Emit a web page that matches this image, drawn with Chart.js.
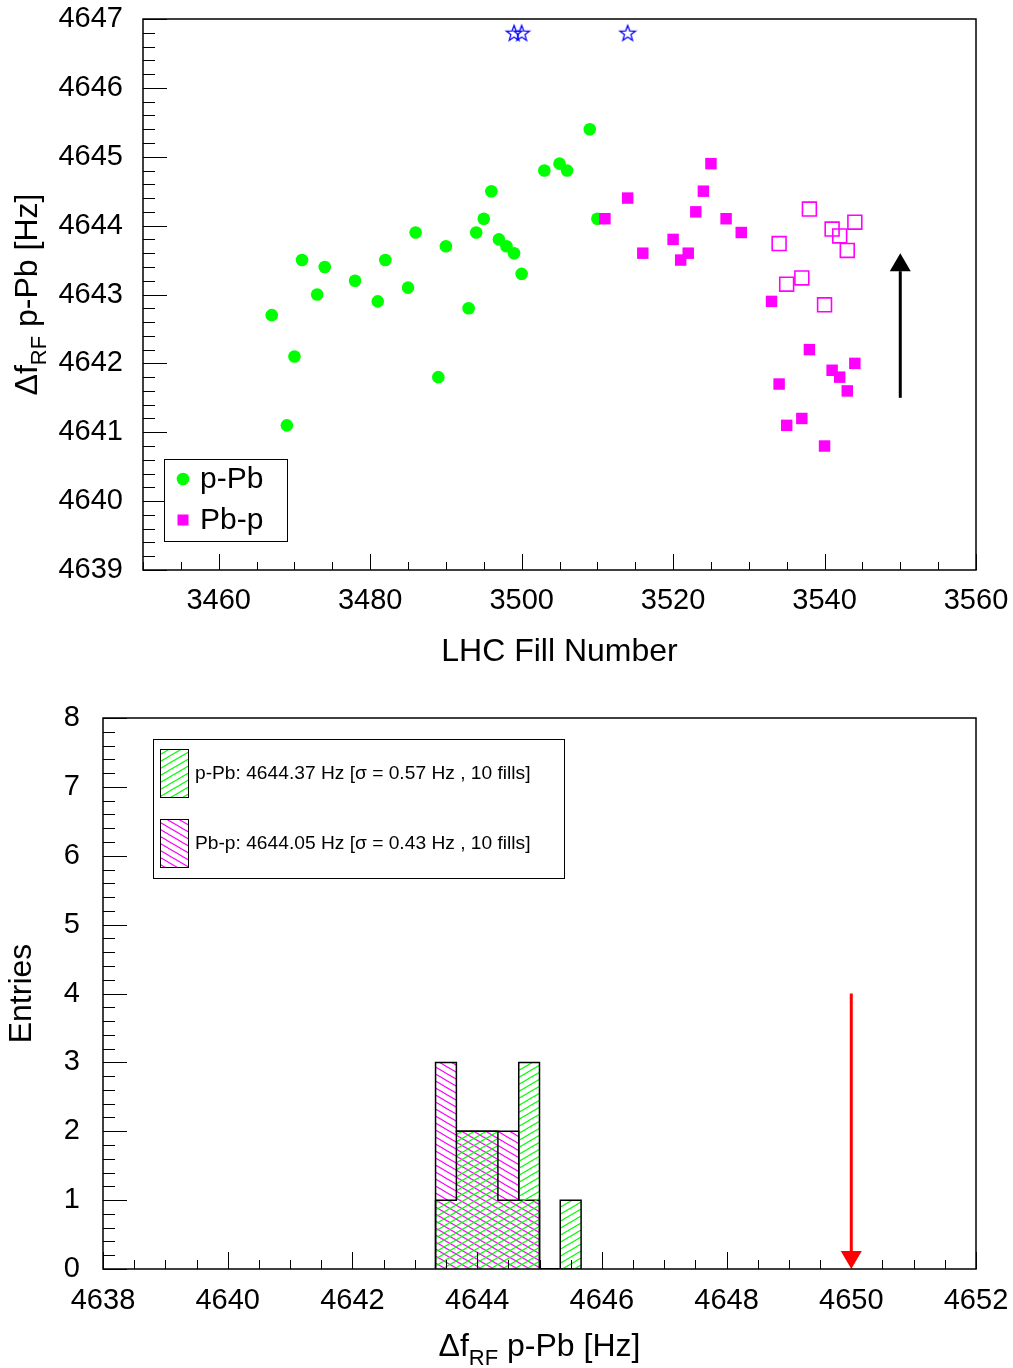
<!DOCTYPE html>
<html>
<head>
<meta charset="utf-8">
<script src="https://cdn.jsdelivr.net/npm/chart.js@4.4.0/dist/chart.umd.min.js"></script>
<style>
  html, body { margin: 0; padding: 0; background: #fff; }
  #wrap { position: relative; width: 1013px; height: 1368px; }
  canvas { position: absolute; left: 0; }
  #fillChart { top: 0; }
  #histChart { top: 680px; }
</style>
</head>
<body>
<div id="wrap">
  <canvas id="fillChart" width="1013" height="680"></canvas>
  <canvas id="histChart" width="1013" height="688"></canvas>
</div>
<script>
const FONT = '"Liberation Sans", Arial, Helvetica, sans-serif';

// p-Pb fills (green dots)
const ppbFill = [3467, 3469, 3470, 3471, 3473, 3474, 3478, 3481, 3482, 3485, 3486, 3489, 3490,
                 3493, 3494, 3495, 3496, 3497, 3498, 3499, 3500, 3503, 3505, 3506, 3509, 3510];
const ppbFreq = [4642.7, 4641.1, 4642.1, 4643.5, 4643.0, 4643.4, 4643.2, 4642.9, 4643.5, 4643.1, 4643.9, 4641.8, 4643.7,
                 4642.8, 4643.9, 4644.1, 4644.5, 4643.8, 4643.7, 4643.6, 4643.3, 4644.8, 4644.9, 4644.8, 4645.4, 4644.1];

// Pb-p fills (filled magenta squares)
const pbpFill = [3511, 3514, 3516, 3520, 3521, 3522, 3523, 3524, 3525, 3527, 3529,
                 3533, 3534, 3535, 3537, 3538, 3540, 3541, 3542, 3543, 3544];
const pbpFreq = [4644.1, 4644.4, 4643.6, 4643.8, 4643.5, 4643.6, 4644.2, 4644.5, 4644.9, 4644.1, 4643.9,
                 4642.9, 4641.7, 4641.1, 4641.2, 4642.2, 4640.8, 4641.9, 4641.8, 4641.6, 4642.0];

// Pb-p fills, shifted values (open magenta squares)
const pbpShiftFill = [3534, 3535, 3537, 3538, 3540, 3541, 3542, 3543, 3544];
const pbpShiftFreq = [4643.74, 4643.15, 4643.24, 4644.24, 4642.85, 4643.95, 4643.85, 4643.64, 4644.05];

// fills off scale (blue stars along the top)
const starFill = [3499, 3500, 3514];
const starFreq = [4646.8, 4646.8, 4646.8];

// arrow in the upper panel: [fill, from, to]
const fillArrow = [3550, 4641.5, 4643.6];

const fillTicksX = [3460, 3480, 3500, 3520, 3540, 3560];
const fillTicksY = [4639, 4640, 4641, 4642, 4643, 4644, 4645, 4646, 4647];

// histogram of frequencies, bins of 1/3 Hz
const binEdges = [4643.333, 4643.667, 4644.0, 4644.333, 4644.667, 4645.0, 4645.333, 4645.667];
const ppbCounts = [1, 2, 2, 1, 3, 0, 1];
const pbpCounts = [3, 2, 2, 2, 1, 0, 0];

// nominal value marker: [frequency, from entries, to entries]
const nominalArrow = [4650, 4, 0];

const histTicksX = [4638, 4640, 4642, 4644, 4646, 4648, 4650, 4652];
const histTicksY = [0, 1, 2, 3, 4, 5, 6, 7, 8];

const legendPpb = 'p-Pb: 4644.37 Hz [\u03c3 = 0.57 Hz , 10 fills]';
const legendPbp = 'Pb-p: 4644.05 Hz [\u03c3 = 0.43 Hz , 10 fills]';

const GREEN = '#00ff00';
const MAGENTA = '#ff00ff';

function toPoints(xs, ys) {
    return xs.map((x, i) => ({ x: x, y: ys[i] }));
}

// histogram outline: the value of each bin holds until the next edge
function stepPoints(edges, counts) {
    const pts = [{ x: edges[0], y: 0 }];
    counts.forEach((c, i) => pts.push({ x: edges[i], y: c }));
    pts.push({ x: edges[edges.length - 1], y: 0 });
    return pts;
}

function makeStar(color) {
    const c = document.createElement('canvas');
    c.width = 20; c.height = 20;
    const g = c.getContext('2d');
    g.strokeStyle = color;
    g.lineWidth = 1.3;
    g.beginPath();
    for (let i = 0; i < 10; i++) {
        const r = i % 2 ? 3.4 : 8.2;
        const a = -Math.PI / 2 + i * Math.PI / 5;
        const px = 10 + r * Math.cos(a), py = 10.8 + r * Math.sin(a);
        if (i) g.lineTo(px, py); else g.moveTo(px, py);
    }
    g.closePath();
    g.stroke();
    return c;
}

// diagonal hatch tile; dir > 0 rises to the right, dir < 0 falls
function makeHatch(ctx, color, dir) {
    const w = 12, h = 7;
    const c = document.createElement('canvas');
    c.width = w; c.height = h;
    const g = c.getContext('2d');
    g.strokeStyle = color;
    g.lineWidth = 1.1;
    g.beginPath();
    for (let dx = -w; dx <= w; dx += w) {
        for (let dy = -h; dy <= h; dy += h) {
            if (dir > 0) { g.moveTo(dx, dy + h); g.lineTo(dx + w, dy); }
            else { g.moveTo(dx, dy); g.lineTo(dx + w, dy + h); }
        }
    }
    g.stroke();
    return ctx.createPattern(c, 'repeat');
}

// inward ROOT-like tick marks plus the frame
function frameTicksPlugin(cfg) {
    function drawTicks(ctx, scale, o, axis, a) {
        const n0 = Math.ceil(scale.min / o.minor - 1e-6);
        const n1 = Math.floor(scale.max / o.minor + 1e-6);
        ctx.beginPath();
        for (let n = n0; n <= n1; n++) {
            const v = n * o.minor;
            const k = v / o.major;
            const major = Math.abs(k - Math.round(k)) < 1e-6;
            const len = major ? o.majorLen : o.minorLen;
            const p = Math.round(scale.getPixelForValue(v)) + 0.5;
            if (axis === 'x') { ctx.moveTo(p, a.bottom); ctx.lineTo(p, a.bottom - len); }
            else { ctx.moveTo(a.left, p); ctx.lineTo(a.left + len, p); }
        }
        ctx.stroke();
    }
    return {
        id: 'frameTicks',
        afterDraw(chart) {
            const { ctx, chartArea: a, scales } = chart;
            ctx.save();
            ctx.strokeStyle = '#000';
            ctx.lineWidth = 1;
            drawTicks(ctx, scales.x, cfg.x, 'x', a);
            drawTicks(ctx, scales.y, cfg.y, 'y', a);
            ctx.lineWidth = 1.5;
            ctx.strokeRect(a.left, a.top, a.right - a.left, a.bottom - a.top);
            ctx.restore();
        }
    };
}

// text pieces with subscripts: [text, size, baseline shift]
function drawRich(ctx, parts, x, y, rotate) {
    ctx.save();
    ctx.translate(x, y);
    if (rotate) ctx.rotate(-Math.PI / 2);
    let total = 0;
    parts.forEach(p => { ctx.font = p[1] + 'px ' + FONT; total += ctx.measureText(p[0]).width; });
    let cx = -total / 2;
    ctx.textAlign = 'left';
    ctx.textBaseline = 'alphabetic';
    ctx.fillStyle = '#000';
    parts.forEach(p => {
        ctx.font = p[1] + 'px ' + FONT;
        ctx.fillText(p[0], cx, p[2]);
        cx += ctx.measureText(p[0]).width;
    });
    ctx.restore();
}

const dfTitle = [['\u0394f', 32, 0], ['RF', 22, 9], [' p-Pb [Hz]', 32, 0]];

function drawArrow(ctx, x, yFrom, yTo, color) {
    const dir = yTo < yFrom ? -1 : 1;
    const head = 18, half = 10.5;
    ctx.save();
    ctx.strokeStyle = color;
    ctx.fillStyle = color;
    ctx.lineWidth = 3;
    ctx.beginPath();
    ctx.moveTo(x, yFrom);
    ctx.lineTo(x, yTo - dir * head);
    ctx.stroke();
    ctx.beginPath();
    ctx.moveTo(x, yTo);
    ctx.lineTo(x - half, yTo - dir * head);
    ctx.lineTo(x + half, yTo - dir * head);
    ctx.closePath();
    ctx.fill();
    ctx.restore();
}

// fixed axis box; label overhang is covered by the layout padding
function fixBox(prop, size) {
    return s => {
        s[prop] = size;
        s.paddingLeft = 0;
        s.paddingRight = 0;
        s.paddingTop = 0;
        s.paddingBottom = 0;
    };
}

function axisOptions(min, max, tickValues, pad, fit) {
    return {
        type: 'linear',
        min: min,
        max: max,
        grid: { display: false, drawTicks: false },
        border: { display: false },
        ticks: {
            color: '#000',
            font: { family: FONT, size: 29 },
            padding: pad,
            autoSkip: false,
            maxRotation: 0,
            callback: v => String(v)
        },
        afterBuildTicks: s => { s.ticks = tickValues.map(v => ({ value: v })); },
        afterFit: fit
    };
}

// ---------- upper panel: frequency vs fill ----------
const starImg = makeStar('#0000ff');

const fillDecor = {
    id: 'fillDecor',
    afterDraw(chart) {
        const { ctx, scales } = chart;
        const x = scales.x.getPixelForValue(fillArrow[0]);
        drawArrow(ctx, x, scales.y.getPixelForValue(fillArrow[1]), scales.y.getPixelForValue(fillArrow[2]), '#000');

        // titles
        ctx.save();
        ctx.fillStyle = '#000';
        ctx.font = '32px ' + FONT;
        ctx.textAlign = 'center';
        ctx.textBaseline = 'alphabetic';
        ctx.fillText('LHC Fill Number', 559.5, 661);
        ctx.restore();
        drawRich(ctx, dfTitle, 37, 294.5, true);

        // legend
        ctx.save();
        ctx.fillStyle = '#fff';
        ctx.fillRect(164, 459, 124, 83);
        ctx.strokeStyle = '#000';
        ctx.lineWidth = 1;
        ctx.strokeRect(164.5, 459.5, 123, 82);
        ctx.fillStyle = GREEN;
        ctx.beginPath();
        ctx.arc(183, 479, 6.3, 0, Math.PI * 2);
        ctx.fill();
        ctx.fillStyle = MAGENTA;
        ctx.fillRect(177.5, 514.5, 11, 11);
        ctx.fillStyle = '#000';
        ctx.font = '30px ' + FONT;
        ctx.textAlign = 'left';
        ctx.fillText('p-Pb', 200, 488);
        ctx.fillText('Pb-p', 200, 529);
        ctx.restore();
    }
};

new Chart(document.getElementById('fillChart'), {
    type: 'scatter',
    data: {
        datasets: [
            {
                label: 'p-Pb',
                data: toPoints(ppbFill, ppbFreq),
                pointStyle: 'circle',
                pointRadius: 6.3,
                pointBorderWidth: 0,
                backgroundColor: GREEN,
                order: 3
            },
            {
                label: 'Pb-p',
                data: toPoints(pbpFill, pbpFreq),
                pointStyle: 'rect',
                pointRadius: 8.1,
                pointBorderWidth: 0,
                backgroundColor: MAGENTA,
                order: 2
            },
            {
                label: 'Pb-p shifted',
                data: toPoints(pbpShiftFill, pbpShiftFreq),
                pointStyle: 'rect',
                pointRadius: 9.8,
                pointBorderWidth: 1.6,
                borderColor: MAGENTA,
                backgroundColor: 'rgba(0,0,0,0)',
                order: 1
            },
            {
                label: 'off scale',
                data: toPoints(starFill, starFreq),
                pointStyle: starImg,
                pointRadius: 8,
                order: 0
            }
        ]
    },
    options: {
        responsive: false,
        animation: false,
        events: [],
        layout: { padding: { left: 0, right: 37, top: 19, bottom: 0 } },
        plugins: { legend: { display: false }, tooltip: { enabled: false } },
        scales: {
            x: axisOptions(3450, 3560, fillTicksX, 14, fixBox('height', 110)),
            y: axisOptions(4639, 4647, fillTicksY, 20, fixBox('width', 143))
        }
    },
    plugins: [
        frameTicksPlugin({
            x: { major: 20, minor: 5, majorLen: 16, minorLen: 8 },
            y: { major: 1, minor: 0.2, majorLen: 24, minorLen: 12 }
        }),
        fillDecor
    ]
});

// ---------- lower panel: frequency histogram ----------
const histCanvas = document.getElementById('histChart');
const histCtx = histCanvas.getContext('2d');
const greenHatch = makeHatch(histCtx, GREEN, 1);
const magentaHatch = makeHatch(histCtx, MAGENTA, -1);

const histDecor = {
    id: 'histDecor',
    afterDraw(chart) {
        const { ctx, scales } = chart;
        const x = scales.x.getPixelForValue(nominalArrow[0]);
        drawArrow(ctx, x, scales.y.getPixelForValue(nominalArrow[1]), scales.y.getPixelForValue(nominalArrow[2]), '#ff0000');

        drawRich(ctx, dfTitle, 539.5, 676, false);
        ctx.save();
        ctx.fillStyle = '#000';
        ctx.font = '32px ' + FONT;
        ctx.translate(31, 313.5);
        ctx.rotate(-Math.PI / 2);
        ctx.textAlign = 'center';
        ctx.textBaseline = 'alphabetic';
        ctx.fillText('Entries', 0, 0);
        ctx.restore();

        // legend
        ctx.save();
        ctx.fillStyle = '#fff';
        ctx.fillRect(153, 59, 412, 140);
        ctx.strokeStyle = '#000';
        ctx.lineWidth = 1;
        ctx.strokeRect(153.5, 59.5, 411, 139);
        [[greenHatch, 69.5, legendPpb, 98.5], [magentaHatch, 139.5, legendPbp, 168.5]].forEach(e => {
            ctx.fillStyle = e[0];
            ctx.fillRect(160.5, e[1], 28, 48);
            ctx.strokeStyle = '#000';
            ctx.strokeRect(160.5, e[1], 28, 48);
            ctx.fillStyle = '#000';
            ctx.font = '19.2px ' + FONT;
            ctx.textAlign = 'left';
            ctx.textBaseline = 'alphabetic';
            ctx.fillText(e[2], 195, e[3]);
        });
        ctx.restore();
    }
};

new Chart(histCanvas, {
    type: 'line',
    data: {
        datasets: [
            {
                label: 'p-Pb',
                data: stepPoints(binEdges, ppbCounts),
                stepped: true,
                fill: 'origin',
                backgroundColor: greenHatch,
                borderColor: '#000',
                borderWidth: 1.5,
                pointRadius: 0,
                order: 1
            },
            {
                label: 'Pb-p',
                data: stepPoints(binEdges, pbpCounts),
                stepped: true,
                fill: 'origin',
                backgroundColor: magentaHatch,
                borderColor: '#000',
                borderWidth: 1.5,
                pointRadius: 0,
                order: 2
            }
        ]
    },
    options: {
        responsive: false,
        animation: false,
        events: [],
        layout: { padding: { left: 0, right: 37, top: 38, bottom: 0 } },
        plugins: { legend: { display: false }, tooltip: { enabled: false } },
        scales: {
            x: axisOptions(4638, 4652, histTicksX, 15, fixBox('height', 99)),
            y: axisOptions(0, 8, histTicksY, 23, fixBox('width', 103))
        }
    },
    plugins: [
        frameTicksPlugin({
            x: { major: 2, minor: 0.5, majorLen: 17, minorLen: 9 },
            y: { major: 1, minor: 0.2, majorLen: 24, minorLen: 12 }
        }),
        histDecor
    ]
});
</script>
</body>
</html>
